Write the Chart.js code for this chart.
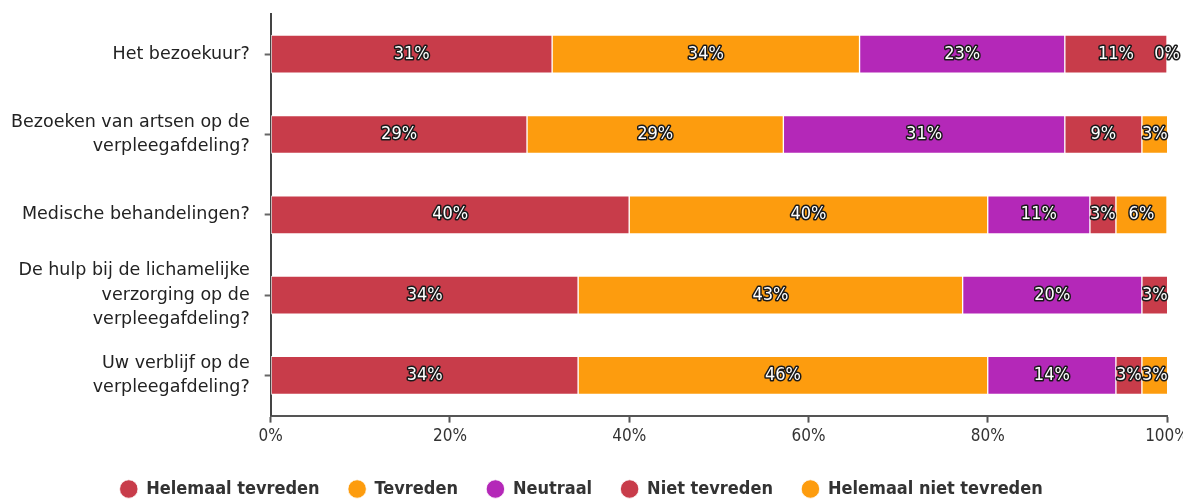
<!DOCTYPE html>
<html>
<head>
<meta charset="utf-8">
<script src="https://cdn.jsdelivr.net/npm/chart.js@4/dist/chart.umd.min.js"></script>
<style>
  html, body { margin: 0; padding: 0; background: #fff; }
  #wrap { width: 1183px; height: 499px; }
</style>
</head>
<body>
<div id="wrap"><canvas id="main-chart"></canvas></div>
<script>
const categories = [
  'Het bezoekuur?',
  ['Bezoeken van artsen op de', 'verpleegafdeling?'],
  'Medische behandelingen?',
  ['De hulp bij de lichamelijke', 'verzorging op de', 'verpleegafdeling?'],
  ['Uw verblijf op de', 'verpleegafdeling?']
];

// percentages per answer, one value per category
const helemaalTevreden = [31.4, 28.6, 40.0, 34.3, 34.3];
const tevreden = [34.3, 28.6, 40.0, 42.9, 45.7];
const neutraal = [22.9, 31.4, 11.4, 20.0, 14.3];
const nietTevreden = [11.4, 8.6, 2.9, 2.9, 2.9];
const helemaalNietTevreden = [0, 2.9, 5.7, null, 2.9];

const xTicks = [0, 20, 40, 60, 80, 100];

const RED = '#c83c4a';
const ORANGE = '#fd9c0e';
const PURPLE = '#b428b8';

const FONT = "'Liberation Sans Narrow', 'DejaVu Sans Condensed', sans-serif";

// white labels with a dark outline in the middle of each segment
const barLabels = {
  id: 'barLabels',
  afterDatasetsDraw(chart) {
    const ctx = chart.ctx;
    ctx.save();
    ctx.font = '18px ' + FONT;
    ctx.textAlign = 'center';
    ctx.textBaseline = 'middle';
    ctx.lineJoin = 'round';
    ctx.lineWidth = 3;
    ctx.strokeStyle = '#1a1a1a';
    ctx.fillStyle = '#fff';
    chart.data.datasets.forEach((ds, i) => {
      const meta = chart.getDatasetMeta(i);
      meta.data.forEach((bar, j) => {
        const v = ds.data[j];
        if (v === null || v === undefined) return;
        const txt = Math.round(v) + '%';
        const x = (bar.x + bar.base) / 2;
        ctx.strokeText(txt, x, bar.y);
        ctx.fillText(txt, x, bar.y);
      });
    });
    ctx.restore();
  }
};

const mkSet = (label, data, color) => ({
  label: label,
  data: data,
  backgroundColor: color,
  borderColor: 'rgba(255,255,255,0.75)',
  borderWidth: 1,
  borderSkipped: false,
  barThickness: 38
});

const mainChart = new Chart(document.getElementById('main-chart'), {
  type: 'bar',
  data: {
    labels: categories,
    datasets: [
      mkSet('Helemaal tevreden', helemaalTevreden, RED),
      mkSet('Tevreden', tevreden, ORANGE),
      mkSet('Neutraal', neutraal, PURPLE),
      mkSet('Niet tevreden', nietTevreden, RED),
      mkSet('Helemaal niet tevreden', helemaalNietTevreden, ORANGE)
    ]
  },
  options: {
    indexAxis: 'y',
    responsive: true,
    maintainAspectRatio: false,
    animation: false,
    layout: {
      padding: { top: 14, right: 16, left: -4, bottom: -9 }
    },
    plugins: {
      tooltip: { enabled: false },
      legend: {
        position: 'bottom',
        labels: {
          usePointStyle: true,
          pointStyle: 'circle',
          boxWidth: 17,
          boxHeight: 13,
          padding: 29,
          color: '#333',
          font: { family: FONT, size: 18, weight: 'bold' }
        }
      }
    },
    scales: {
      x: {
        stacked: true,
        min: 0,
        max: 100,
        afterBuildTicks: (axis) => {
          axis.ticks = xTicks.map(v => ({ value: v }));
        },
        afterFit: (axis) => {
          axis.paddingRight = 0;
          axis.paddingLeft = 0;
        },
        ticks: {
          color: '#333',
          padding: 4,
          font: { family: FONT, size: 17 },
          callback: (v) => v + '%'
        },
        grid: {
          drawOnChartArea: false,
          drawTicks: true,
          tickLength: 7,
          tickWidth: 2,
          color: '#555'
        },
        border: { display: true, color: '#555', width: 2 }
      },
      y: {
        stacked: true,
        afterFit: (axis) => {
          axis.paddingTop = 0;
          axis.paddingBottom = 0;
        },
        ticks: {
          autoSkip: false,
          color: '#222',
          padding: 15,
          font: { family: "'DejaVu Sans', sans-serif", size: 17.5, lineHeight: 1.4 }
        },
        grid: {
          offset: false,
          drawOnChartArea: false,
          drawTicks: true,
          tickLength: 6,
          tickWidth: 2,
          color: '#666'
        },
        border: { display: true, color: '#444', width: 2 }
      }
    }
  },
  plugins: [barLabels]
});
</script>
</body>
</html>
